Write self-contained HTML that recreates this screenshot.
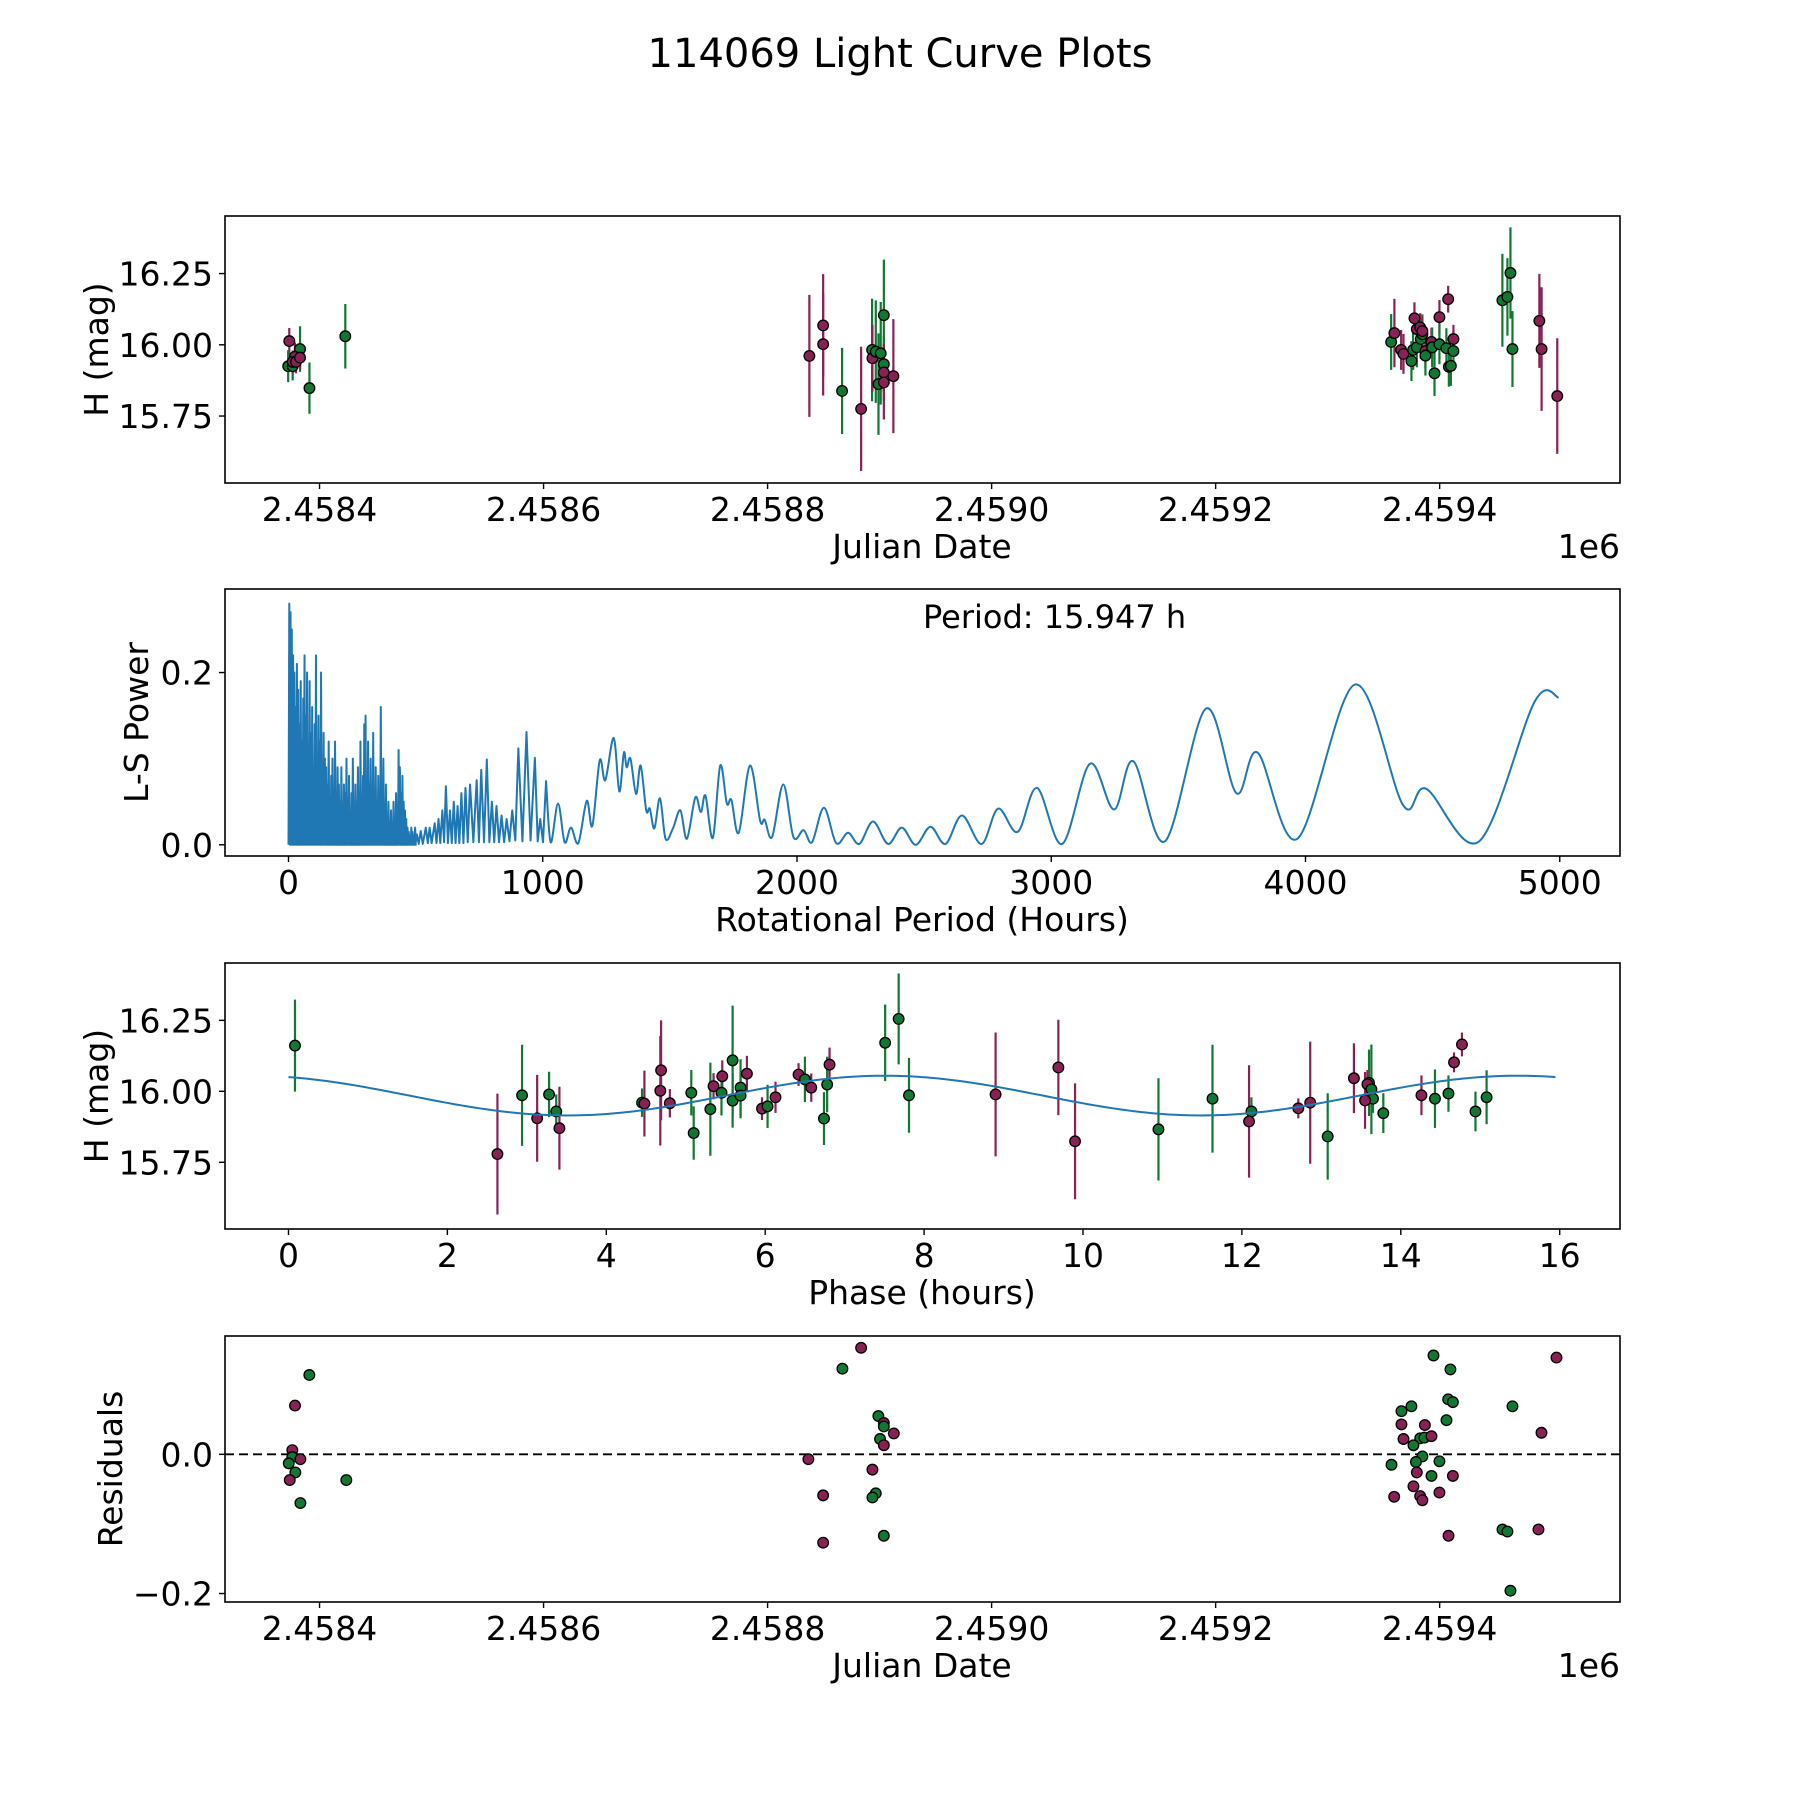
<!DOCTYPE html>
<html><head><meta charset="utf-8"><style>
html,body{margin:0;padding:0;background:#fff}
svg{display:block;font-family:"DejaVu Sans","Liberation Sans",sans-serif}
</style></head><body>
<svg id="fig" width="1800" height="1800" viewBox="0 0 1800 1800" xmlns="http://www.w3.org/2000/svg">
<rect width="1800" height="1800" fill="#fff"/>
<text x="900" y="67" font-size="40" text-anchor="middle">114069 Light Curve Plots</text>
<text x="923" y="628" font-size="32">Period: 15.947 h</text>
</svg>
<script>
// ---------- Panel 1: light curve (JD - 2458000) ----------
const lcDays=[373,382.6,372,376,378,376,379,382.6,391,423,837.3,849.6,849.6,866.5,883.5,893.3,893.6,896.6,901,903.8,903.8,903.8,899,903.8,912.3,
1356.7,1359.6,1365.6,1367.7,1374.8,1376.3,1379.6,1377.5,1379.6,1382.6,1383.2,1384.6,1384.6,1387.3,1387.3,1392.7,1393.3,1395.4,1399.8,1399.8,1407.6,1406,1408.2,1410,1412.3,1412.3,1456,1460.5,1463.2,1465,1489,1491,1505];
const lcMags=[16.013,15.985,15.925,15.925,15.958,15.94,15.94,15.955,15.848,16.03,15.961,16.068,16.002,15.838,15.775,15.982,15.953,15.976,15.97,16.104,15.932,15.903,15.862,15.868,15.89,
16.01,16.041,15.982,15.968,15.943,15.982,15.991,16.093,16.055,16.061,16.02,16.037,16.048,15.978,15.962,16.01,15.991,15.9,16.097,16.002,16.16,15.988,15.923,15.926,15.978,16.02,16.156,16.168,16.252,15.985,16.084,15.985,15.82];
const lcErrs=[0.046,0.08,0.056,0.05,0.05,0.04,0.04,0.04,0.09,0.113,0.214,0.18,0.18,0.151,0.218,0.18,0.117,0.18,0.18,0.195,0.1,0.1,0.178,0.13,0.2,
0.098,0.12,0.07,0.07,0.07,0.07,0.07,0.056,0.05,0.05,0.07,0.07,0.05,0.06,0.07,0.05,0.07,0.08,0.06,0.07,0.047,0.07,0.07,0.07,0.07,0.05,0.163,0.136,0.16,0.133,0.165,0.217,0.203];
const lcColors="mgggmmmmgg" + "mmmgmgmggggmgmm" + "gmmmgggmmmggmmgmggmgmggggmggggmmm";

// ---------- Panel 2: periodogram ----------
const pgDensePeriods=[3,8,13,18,23,28,33,38,43,48,53,58,63,68,73,78,83,88,93,98,103,108,113,118,123,128,133,138,143,148,153,158,163,168,173,178,183,188,193,198,203,208,213,218,223,228,233,238,243,248,253,258,263,268,273,278,283,288,293,298,303,308,313,318,323,328,333,338,343,348,353,358,363,368,373,378,383,388,393,398,403,408,413,418,423,428,433,438,443,448,453,458,463,468,473,478,483,488,493,498];
const pgDensePowers=[0.28,0.27,0.25,0.22,0.2,0.16,0.21,0.18,0.14,0.19,0.12,0.17,0.22,0.15,0.2,0.11,0.19,0.13,0.16,0.09,0.14,0.22,0.1,0.15,0.12,0.2,0.08,0.13,0.1,0.09,0.07,0.12,0.05,0.08,0.1,0.06,0.12,0.04,0.09,0.07,0.05,0.09,0.04,0.07,0.06,0.1,0.05,0.08,0.03,0.06,0.1,0.04,0.07,0.05,0.09,0.06,0.12,0.04,0.08,0.14,0.15,0.05,0.12,0.07,0.1,0.04,0.13,0.06,0.09,0.05,0.08,0.04,0.16,0.06,0.1,0.04,0.07,0.03,0.05,0.02,0.04,0.02,0.05,0.03,0.06,0.04,0.11,0.09,0.06,0.08,0.05,0.04,0.03,0.02,0.015,0.01,0.02,0.015,0.01,0.02];
const pgMidPeriods=[500,505,512,520,528,540,548,555,563,575,582,590,597,605,612,619,627,635,642,650,657,665,672,680,688,696,705,714,727,740,749,758,769,780,790,800,809,818,828,838,848,858,869,880,892,904,920,936,952,969,980,990,1001,1013];
const pgMidPowers=[0.002,0.012,0.001,0.016,0.001,0.02,0.002,0.02,0.002,0.025,0.002,0.03,0.002,0.04,0.003,0.068,0.002,0.04,0.002,0.05,0.002,0.045,0.002,0.06,0.002,0.066,0.003,0.07,0.003,0.075,0.003,0.087,0.003,0.099,0.003,0.05,0.003,0.045,0.003,0.034,0.003,0.03,0.004,0.04,0.005,0.112,0.004,0.131,0.005,0.101,0.004,0.03,0.003,0.074];
const pgLongPeriods=[1013,1031,1060,1086,1111,1140,1173,1195,1224,1246,1279,1301,1319,1330,1345,1367,1385,1407,1421,1439,1461,1483,1512,1541,1567,1600,1622,1640,1669,1698,1724,1742,1771,1815,1855,1873,1902,1946,1986,2026,2059,2106,2154,2201,2245,2299,2358,2412,2467,2525,2584,2649,2726,2791,2868,2944,3043,3152,3247,3323,3447,3608,3728,3812,3968,4194,4384,4475,4683,4901,4996];
const pgLongPowers=[0.074,0.003,0.048,0.003,0.02,0.002,0.051,0.022,0.098,0.075,0.124,0.062,0.107,0.09,0.1,0.059,0.092,0.04,0.042,0.019,0.054,0.007,0.019,0.04,0.007,0.055,0.038,0.057,0.008,0.092,0.048,0.052,0.014,0.092,0.028,0.029,0.009,0.07,0.009,0.017,0.003,0.043,0.002,0.014,0.001,0.027,0.001,0.02,0.0,0.021,0.001,0.034,0.001,0.042,0.015,0.066,0.001,0.094,0.041,0.097,0.004,0.158,0.06,0.107,0.007,0.186,0.046,0.065,0.004,0.166,0.171];

// ---------- Panel 3: phased ----------
const phHours=[0.082,2.63,2.94,3.13,3.28,3.37,3.41,4.45,4.48,4.69,4.68,4.80,5.07,5.10,5.31,5.35,5.46,5.45,5.59,5.59,5.69,5.69,5.77,5.96,6.03,6.13,6.42,6.50,6.58,6.74,6.78,6.81,7.51,7.68,7.81,8.90,9.69,9.90,
10.95,11.63,12.12,12.09,12.71,12.86,13.08,13.41,13.60,13.58,13.63,13.65,13.55,13.78,14.26,14.43,14.60,14.67,14.77,14.94,15.08];
const phMags=[16.161,15.779,15.986,15.905,15.989,15.929,15.87,15.96,15.957,16.074,16.002,15.958,15.995,15.853,15.937,16.018,16.053,15.995,16.109,15.967,16.013,15.985,16.062,15.939,15.947,15.979,16.059,16.042,16.013,15.904,16.024,16.094,16.171,16.255,15.986,15.989,16.084,15.824,
15.866,15.974,15.929,15.894,15.94,15.96,15.841,16.046,16.03,16.025,16.007,15.974,15.968,15.923,15.986,15.974,15.992,16.102,16.165,15.929,15.979];
const phErrs=[0.162,0.213,0.178,0.153,0.08,0.06,0.146,0.05,0.116,0.176,0.193,0.05,0.08,0.094,0.164,0.046,0.056,0.08,0.193,0.095,0.1,0.08,0.063,0.04,0.076,0.055,0.04,0.08,0.05,0.093,0.098,0.06,0.135,0.16,0.132,0.218,0.168,0.204,
0.18,0.19,0.05,0.198,0.035,0.215,0.152,0.123,0.117,0.05,0.158,0.05,0.1,0.07,0.07,0.103,0.064,0.035,0.042,0.07,0.095];
const phColors="gmgmggmgmmmmgggmmgggggmmgmmgmggmgggmmm"+"gggmmmgmgmggmgmggmmgg";
const modelPeriod=15.947, modelMean=15.985, modelAmp=0.07, modelPeakPhase=7.5;

// ---------- Panel 4: residuals ----------
const resDays=[390.9,378.1,375.7,375.7,382.9,372.5,378.4,373.4,423.9,382.9,
883.5,866.8,898.9,903.8,903.8,912.7,900.4,903.8,836.4,893.6,849.6,896.6,893.6,903.8,849.6,
1394.5,1409.6,1407.6,1411.8,1374.8,1365.9,1406.1,1365.9,1386.8,1367.7,1382.6,1386.4,1392.7,1376.6,1384.6,1378.8,1399.8,1357,1379.6,1392.7,1411.8,1376.6,1399.8,1359.4,1382.6,1384.6,1407.9,1456.1,1460.5,1488.2,1463.2,1465,1490.9,1504.3];
const resVals=[0.114,0.070,0.006,-0.004,-0.007,-0.013,-0.026,-0.037,-0.037,-0.070,
0.153,0.123,0.055,0.045,0.040,0.030,0.022,0.013,-0.007,-0.022,-0.059,-0.056,-0.062,-0.117,-0.127,
0.142,0.122,0.079,0.075,0.069,0.062,0.049,0.043,0.042,0.022,0.023,0.024,0.026,0.013,-0.003,-0.011,-0.010,-0.015,-0.026,-0.031,-0.031,-0.046,-0.055,-0.061,-0.060,-0.066,-0.117,-0.108,-0.111,-0.108,-0.196,0.069,0.031,0.139];
const resColors="gmmgmggmgg"+"mggmgmgmmmmgggm"+"gggggggmmmggmgggggmgmmmmmmmggmggmm";

const xTicksJD=[2458400,2458600,2458800,2459000,2459200,2459400];
const xTickLabelsJD=["2.4584","2.4586","2.4588","2.4590","2.4592","2.4594"];
const yTicksMag=[15.75,16.0,16.25];
const yTickLabelsMag=["15.75","16.00","16.25"];
const xTicksPg=[0,1000,2000,3000,4000,5000];
const yTicksPg=[0,0.2];
const yTickLabelsPg=["0.0","0.2"];
const xTicksPh=[0,2,4,6,8,10,12,14,16];
const yTicksRes=[-0.2,0];
const yTickLabelsRes=["\u22120.2","0.0"];

const NS="http://www.w3.org/2000/svg";
const svg=document.getElementById('fig');
const COL={m:'#882255',g:'#117733'};
function mk(tag,parent){const e=document.createElementNS(NS,tag);(parent||svg).appendChild(e);return e;}
function lin(d0,d1,r0,r1){return v=>r0+(v-d0)/(d1-d0)*(r1-r0);}

const L=225,R=1620;
const JD0=2458000, JDmin=2458315.6, JDmax=2459561;
const axes=[
 {top:216,bot:483,name:'light-curve-axes'},
 {top:589,bot:856,name:'periodogram-axes'},
 {top:963,bot:1229,name:'phase-axes'},
 {top:1336,bot:1602,name:'residuals-axes'}];

function frame(a){
 const r=mk('rect');r.setAttribute('x',L);r.setAttribute('y',a.top);r.setAttribute('width',R-L);r.setAttribute('height',a.bot-a.top);
 r.setAttribute('fill','none');r.setAttribute('stroke','#000');r.setAttribute('stroke-width','1.6');
 
 
}
function xticks(a,vals,labels,sx,name){
 vals.forEach((v,i)=>{const x=sx(v);
  const t=mk('line');t.setAttribute('x1',x);t.setAttribute('x2',x);t.setAttribute('y1',a.bot);t.setAttribute('y2',a.bot+6);t.setAttribute('stroke','#000');t.setAttribute('stroke-width','1.4');
  
  
  const s=mk('text');s.setAttribute('x',x);s.setAttribute('y',a.bot+38);s.setAttribute('font-size','33');s.setAttribute('text-anchor','middle');s.textContent=labels[i];
  
  
 });
}
function yticks(a,vals,labels,sy,name){
 vals.forEach((v,i)=>{const y=sy(v);
  const t=mk('line');t.setAttribute('x1',L-6);t.setAttribute('x2',L);t.setAttribute('y1',y);t.setAttribute('y2',y);t.setAttribute('stroke','#000');t.setAttribute('stroke-width','1.4');
  
  
  const s=mk('text');s.setAttribute('x',L-12);s.setAttribute('y',y+12);s.setAttribute('font-size','33');s.setAttribute('text-anchor','end');s.textContent=labels[i];
  
  
 });
}
function label(x,y,txt,rot,name){
 const s=mk('text');s.setAttribute('x',x);s.setAttribute('y',y);s.setAttribute('font-size','33');s.setAttribute('text-anchor','middle');
 if(rot)s.setAttribute('transform','rotate(-90 '+x+' '+y+')');s.textContent=txt;
 
 
}
function marker(x,y,c,name){
 const m=mk('circle');m.setAttribute('cx',x);m.setAttribute('cy',y);m.setAttribute('r','5.3');m.setAttribute('fill',COL[c]);m.setAttribute('stroke','#000');m.setAttribute('stroke-width','1.3');
 
 
}
function errbar(x,y1,y2,c,name){
 const l=mk('line');l.setAttribute('x1',x);l.setAttribute('x2',x);l.setAttribute('y1',y1);l.setAttribute('y2',y2);l.setAttribute('stroke',COL[c]);l.setAttribute('stroke-width','2.2');
 
 
}

// Panel 1
{
 const a=axes[0];
 const sx=lin(JDmin,JDmax,L,R), sy=lin(15.515,16.452,a.bot,a.top);
 lcDays.forEach((d,i)=>errbar(sx(JD0+d),sy(lcMags[i]-lcErrs[i]),sy(lcMags[i]+lcErrs[i]),lcColors[i],'light-curve-errorbar'));
 lcDays.forEach((d,i)=>marker(sx(JD0+d),sy(lcMags[i]),lcColors[i],'light-curve-point'));
 frame(a);
 xticks(a,xTicksJD,xTickLabelsJD,sx,'light-curve-x');
 yticks(a,yTicksMag,yTickLabelsMag,sy,'light-curve-y');
 label(922,a.bot+75,'Julian Date',false,'light-curve-x-axis-title');
 const o=mk('text');o.setAttribute('x',R);o.setAttribute('y',a.bot+75);o.setAttribute('font-size','33');o.setAttribute('text-anchor','end');o.textContent='1e6';
 
 
 label(108,(a.top+a.bot)/2,'H (mag)',true,'light-curve-y-axis-title');
}
// Panel 2
{
 const a=axes[1];
 const sx=lin(-249.8,5237,L,R), sy=lin(-0.013,0.297,a.bot,a.top);
 let d='M'+sx(0)+' '+sy(0);
 pgDensePeriods.forEach((p,i)=>{d+=' L'+sx(p)+' '+sy(pgDensePowers[i])+' L'+sx(p+2.5)+' '+sy(0);});
 pgMidPeriods.forEach((p,i)=>{d+=' L'+sx(p)+' '+sy(pgMidPowers[i]);});
 const pts=pgLongPeriods.map((p,i)=>[sx(p),sy(pgLongPowers[i])]);
 for(let i=0;i<pts.length-1;i++){
  const p0=pts[Math.max(0,i-1)],p1=pts[i],p2=pts[i+1],p3=pts[Math.min(pts.length-1,i+2)];
  const c1=[p1[0]+(p2[0]-p0[0])/6,p1[1]+(p2[1]-p0[1])/6],c2=[p2[0]-(p3[0]-p1[0])/6,p2[1]-(p3[1]-p1[1])/6];
  d+=' C'+c1[0]+' '+c1[1]+' '+c2[0]+' '+c2[1]+' '+p2[0]+' '+p2[1];
 }
 const pth=mk('path');pth.setAttribute('d',d);pth.setAttribute('fill','none');pth.setAttribute('stroke','#1f77b4');pth.setAttribute('stroke-width','2');pth.setAttribute('stroke-linejoin','round');
 
 
 frame(a);
 xticks(a,xTicksPg,xTicksPg.map(String),sx,'periodogram-x');
 yticks(a,yTicksPg,yTickLabelsPg,sy,'periodogram-y');
 label(922,a.bot+75,'Rotational Period (Hours)',false,'periodogram-x-axis-title');
 label(148,(a.top+a.bot)/2,'L-S Power',true,'periodogram-y-axis-title');
}
// Panel 3
{
 const a=axes[2];
 const sx=lin(-0.799,16.759,L,R), sy=lin(15.515,16.452,a.bot,a.top);
 phHours.forEach((h,i)=>errbar(sx(h),sy(phMags[i]-phErrs[i]),sy(phMags[i]+phErrs[i]),phColors[i],'phase-errorbar'));
 phHours.forEach((h,i)=>marker(sx(h),sy(phMags[i]),phColors[i],'phase-point'));
 let d='';
 for(let k=0;k<=300;k++){const t=modelPeriod*k/300;const m=modelMean+modelAmp*Math.cos(4*Math.PI*(t-modelPeakPhase)/modelPeriod);d+=(k?' L':'M')+sx(t).toFixed(2)+' '+sy(m).toFixed(2);}
 const c=mk('path');c.setAttribute('d',d);c.setAttribute('fill','none');c.setAttribute('stroke','#1f77b4');c.setAttribute('stroke-width','2');
 
 
 frame(a);
 xticks(a,xTicksPh,xTicksPh.map(String),sx,'phase-x');
 yticks(a,yTicksMag,yTickLabelsMag,sy,'phase-y');
 label(922,a.bot+75,'Phase (hours)',false,'phase-x-axis-title');
 label(108,(a.top+a.bot)/2,'H (mag)',true,'phase-y-axis-title');
}
// Panel 4
{
 const a=axes[3];
 const sx=lin(JDmin,JDmax,L,R), sy=lin(-0.2122,0.170,a.bot,a.top);
 const z=mk('line');z.setAttribute('x1',L);z.setAttribute('x2',R);z.setAttribute('y1',sy(0));z.setAttribute('y2',sy(0));z.setAttribute('stroke','#000');z.setAttribute('stroke-width','1.8');z.setAttribute('stroke-dasharray','9 5');
 
 
 resDays.forEach((dd,i)=>marker(sx(JD0+dd),sy(resVals[i]),resColors[i]||'g','residual-point'));
 frame(a);
 xticks(a,xTicksJD,xTickLabelsJD,sx,'residuals-x');
 yticks(a,yTicksRes,yTickLabelsRes,sy,'residuals-y');
 label(922,a.bot+75,'Julian Date',false,'residuals-x-axis-title');
 const o=mk('text');o.setAttribute('x',R);o.setAttribute('y',a.bot+75);o.setAttribute('font-size','33');o.setAttribute('text-anchor','end');o.textContent='1e6';
 
 
 label(122,(a.top+a.bot)/2,'Residuals',true,'residuals-y-axis-title');
}
</script>
</body></html>
